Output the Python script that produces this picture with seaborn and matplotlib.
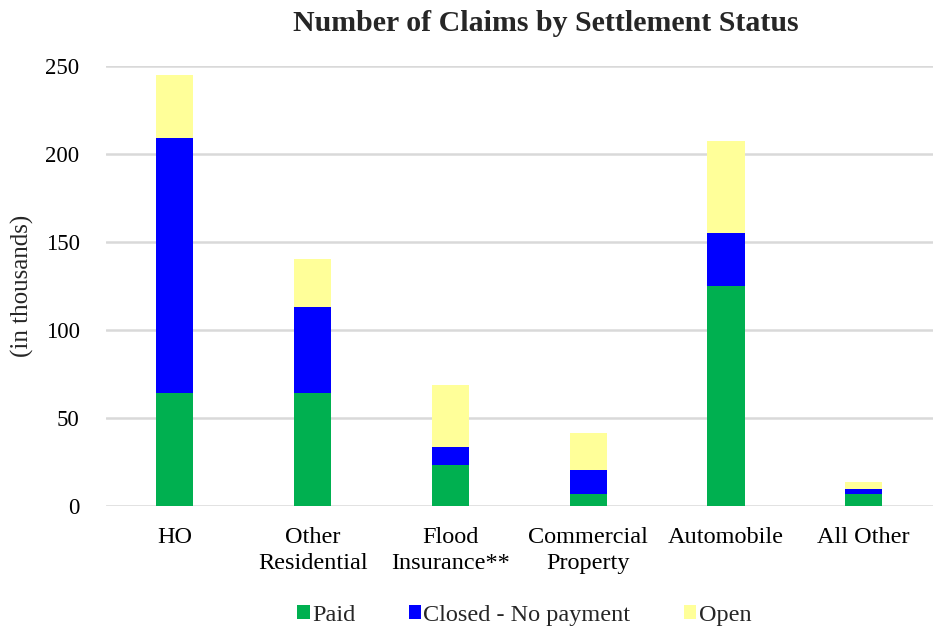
import matplotlib
matplotlib.use("Agg")
import matplotlib.pyplot as plt
import seaborn as sns
import numpy as np
from matplotlib.patches import Patch

categories = ["HO", "Other\nResidential", "Flood\nInsurance**", "Commercial\nProperty", "Automobile", "All Other"]
paid = [64, 64, 23, 6.7, 125, 6.8]
closed_no_payment = [145, 49, 10.5, 13.6, 30, 2.9]
open_claims = [36, 27.5, 35.5, 21.2, 52.7, 4.1]
series_names = ["Paid", "Closed - No payment", "Open"]
colors = ["#00B050", "#0000FF", "#FFFF99"]

sns.set_theme(style="white")
plt.rcParams["font.family"] = ["Liberation Serif", "DejaVu Serif"]

fig = plt.figure(figsize=(9.33, 6.3), dpi=100)
ax = fig.add_axes([0.1136, 0.197, 0.886, 0.698])

bottom = np.zeros(len(categories))
for vals, col in zip([paid, closed_no_payment, open_claims], colors):
    sns.barplot(x=categories, y=vals, color=col, width=0.27, bottom=bottom,
                ax=ax, saturation=1, linewidth=0)
    bottom = bottom + np.array(vals)

ax.set_ylim(0, 250)
ax.set_xlim(-0.5, len(categories) - 0.5)
ax.set_yticks([0, 50, 100, 150, 200, 250])
ax.yaxis.grid(True, color="#d9d9d9", linewidth=1.8)
ax.set_axisbelow(True)
for s in ax.spines.values():
    s.set_visible(False)
ax.tick_params(axis="y", labelsize=16.5, colors="#000000", length=0, pad=19)
ax.tick_params(axis="x", labelsize=17.5, colors="#000000", length=0, pad=15)
for lbl in ax.get_xticklabels():
    lbl.set_linespacing(1.3)
ax.set_ylabel("(in thousands)", fontsize=18)
ax.yaxis.set_label_coords(-0.087, 0.5)
ax.set_xlabel("")

fig.text(0.585, 0.963, "Number of Claims by Settlement Status", fontsize=21.5,
         fontweight="bold", ha="center", va="center")

handles = [Patch(facecolor=c, edgecolor="none") for c in colors]
fig.legend(handles, series_names, loc="lower center", ncol=3, frameon=False,
           fontsize=17.5, handlelength=0.5, handleheight=0.5, handletextpad=0.1,
           columnspacing=2.2, bbox_to_anchor=(0.562, -0.028))

fig.savefig("out.png", dpi=100)
